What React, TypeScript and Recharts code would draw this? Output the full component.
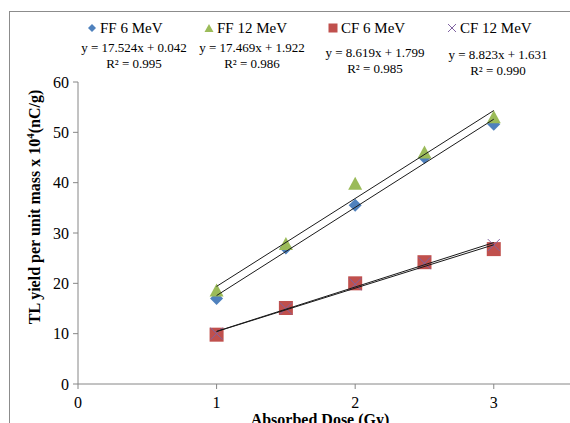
import { Scatter, ScatterChart, XAxis, YAxis } from 'recharts';

// absorbed dose (Gy)
const doses = [1, 1.5, 2, 2.5, 3];

// TL yield per unit mass x 10^4 (nC/g)
const ff6 = [17.0, 27.0, 35.5, 45.0, 51.6];
const ff12 = [18.4, 27.6, 39.6, 45.8, 52.8];
const cf6 = [9.8, 15.1, 20.0, 24.2, 26.8];
const cf12 = [10.0, 15.0, 19.8, 24.0, 27.6];

// linear trendline end points (x = 1 and x = 3)
const trendDoses = [1, 3];
const ff6Trend = [17.57, 52.61];
const ff12Trend = [19.39, 54.33];
const cf6Trend = [10.42, 27.66];
const cf12Trend = [10.45, 28.1];

const seriesNames = ['FF 6 MeV', 'FF 12 MeV', 'CF 6 MeV', 'CF 12 MeV'];
const equations = [
  'y = 17.524x + 0.042',
  'y = 17.469x + 1.922',
  'y = 8.619x + 1.799',
  'y = 8.823x + 1.631',
];
const rSquared = ['R² = 0.995', 'R² = 0.986', 'R² = 0.985', 'R² = 0.990'];

const xTicks = [0, 1, 2, 3];
const yTicks = [0, 10, 20, 30, 40, 50, 60];

const colors = ['#4F81BD', '#9BBB59', '#C0504D', '#8064A2'];
const axisColor = '#868686';
const serif = '"Liberation Serif", "Times New Roman", serif';

type ShapeProps = { cx?: number; cy?: number };

const toPoints = (ys: number[], xs: number[]) =>
  ys.map((y, i) => ({ x: xs[i], y }));

function Diamond({ cx = 0, cy = 0 }: ShapeProps) {
  const r = 6.5;
  return (
    <polygon
      points={`${cx},${cy - r} ${cx + r},${cy} ${cx},${cy + r} ${cx - r},${cy}`}
      fill={colors[0]}
    />
  );
}

function Triangle({ cx = 0, cy = 0 }: ShapeProps) {
  return (
    <polygon
      points={`${cx},${cy - 8} ${cx + 7},${cy + 5} ${cx - 7},${cy + 5}`}
      fill={colors[1]}
    />
  );
}

function Square({ cx = 0, cy = 0 }: ShapeProps) {
  return <rect x={cx - 7} y={cy - 7} width={14} height={14} fill={colors[2]} />;
}

function Cross({ cx = 0, cy = 0 }: ShapeProps) {
  const r = 6;
  return (
    <g stroke={colors[3]} strokeWidth={1}>
      <line x1={cx - r} y1={cy - r} x2={cx + r} y2={cy + r} />
      <line x1={cx - r} y1={cy + r} x2={cx + r} y2={cy - r} />
    </g>
  );
}

function LegendMarker({ index }: { index: number }) {
  const c = colors[index];
  return (
    <svg width={10} height={10} style={{ display: 'block' }}>
      {index === 0 && <polygon points="5,1 9,5 5,9 1,5" fill={c} />}
      {index === 1 && <polygon points="5,1 9.5,9 0.5,9" fill={c} />}
      {index === 2 && <rect x={0.5} y={0.5} width={9} height={9} fill={c} />}
      {index === 3 && (
        <g stroke={c} strokeWidth={1}>
          <line x1={1} y1={1} x2={9} y2={9} />
          <line x1={1} y1={9} x2={9} y2={1} />
        </g>
      )}
    </svg>
  );
}

// legend layout: marker x, equation centre x, equation top y
const legendMarkerX = [87, 204, 328, 447];
const equationCenterX = [134, 252, 375, 498];
const equationTop = [40, 40, 45, 47];

function ChartLegend() {
  return (
    <>
      {seriesNames.map((name, i) => (
        <div
          key={name}
          style={{
            position: 'absolute',
            left: legendMarkerX[i],
            top: 18,
            display: 'flex',
            alignItems: 'center',
            gap: 3,
            fontFamily: serif,
            fontSize: 15,
            lineHeight: '20px',
            whiteSpace: 'nowrap',
          }}
        >
          <LegendMarker index={i} />
          <span>{name}</span>
        </div>
      ))}
      {equations.map((eq, i) => (
        <div
          key={eq}
          style={{
            position: 'absolute',
            left: equationCenterX[i] - 70,
            top: equationTop[i],
            width: 140,
            textAlign: 'center',
            fontFamily: serif,
            fontSize: 13,
            lineHeight: '16px',
            whiteSpace: 'nowrap',
          }}
        >
          <div>{eq}</div>
          <div>{rSquared[i]}</div>
        </div>
      ))}
    </>
  );
}

export default function App() {
  const tick = { fontFamily: serif, fontSize: 16, fill: '#000' };

  return (
    <div
      style={{
        position: 'absolute',
        left: 0,
        top: 0,
        width: 570,
        height: 423,
        overflow: 'hidden',
        background: '#fff',
      }}
    >
      <ScatterChart
        width={570}
        height={423}
        margin={{ top: 82, right: 0, bottom: 9, left: 10 }}
      >
        <XAxis
          type="number"
          dataKey="x"
          domain={[0, 3.55]}
          ticks={xTicks}
          allowDataOverflow
          height={30}
          stroke={axisColor}
          tick={tick}
          tickSize={5}
          tickMargin={8}
        />
        <YAxis
          type="number"
          dataKey="y"
          domain={[0, 60]}
          ticks={yTicks}
          width={68}
          stroke={axisColor}
          tick={tick}
          tickSize={5}
          tickMargin={4}
        />
        <Scatter
          name={seriesNames[0]}
          data={toPoints(ff6, doses)}
          shape={Diamond}
          isAnimationActive={false}
        />
        <Scatter
          name={seriesNames[1]}
          data={toPoints(ff12, doses)}
          shape={Triangle}
          isAnimationActive={false}
        />
        <Scatter
          name={seriesNames[2]}
          data={toPoints(cf6, doses)}
          shape={Square}
          isAnimationActive={false}
        />
        <Scatter
          name={seriesNames[3]}
          data={toPoints(cf12, doses)}
          shape={Cross}
          isAnimationActive={false}
        />
        {[ff6Trend, ff12Trend, cf6Trend, cf12Trend].map((trend, i) => (
          <Scatter
            key={`trend-${i}`}
            data={toPoints(trend, trendDoses)}
            line={{ stroke: '#1a1a1a', strokeWidth: 1 }}
            shape={() => <g />}
            legendType="none"
            isAnimationActive={false}
          />
        ))}
      </ScatterChart>

      <ChartLegend />

      <svg
        width={570}
        height={423}
        style={{ position: 'absolute', left: 0, top: 0, pointerEvents: 'none' }}
      >
        <line x1={9.5} y1={11} x2={9.5} y2={423} stroke="#8c8c8c" />
        <line x1={9} y1={11.5} x2={570} y2={11.5} stroke="#8c8c8c" />
        <text
          x={320}
          y={425}
          textAnchor="middle"
          fontFamily={serif}
          fontSize={16}
          fontWeight="bold"
        >
          Absorbed Dose (Gy)
        </text>
        <text
          transform="translate(40,207) rotate(-90)"
          textAnchor="middle"
          fontFamily={serif}
          fontSize={16}
          fontWeight="bold"
        >
          TL yield per unit mass x 10
          <tspan fontSize={11} dy={-6}>
            4
          </tspan>
          <tspan dy={6}>(nC/g)</tspan>
        </text>
      </svg>
    </div>
  );
}
